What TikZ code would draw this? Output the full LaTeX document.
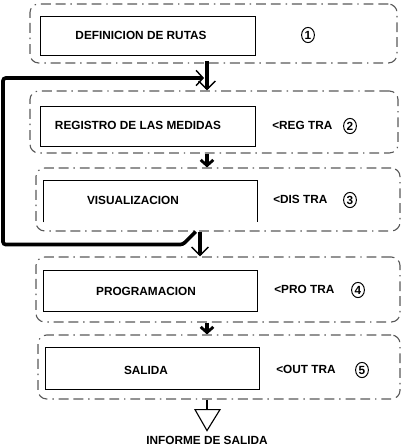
\documentclass[tikz,border=0pt]{standalone}
\usepackage{fontspec}
\setmainfont{Liberation Sans}
\usetikzlibrary{arrows.meta,shapes.geometric}
\tikzset{
  grupo/.style={draw=black!65, line width=0.8pt, rounded corners=2.2mm,
    dash pattern=on 7pt off 3.5pt on 7pt off 3.5pt on 1pt off 3.5pt},
  caja/.style={draw, line width=0.7pt},
  texto/.style={font=\fontsize{8.4}{10}\selectfont\bfseries, inner sep=0pt},
  numero/.style={draw, ellipse, line width=0.7pt, inner sep=0pt,
    minimum width=0.32cm, minimum height=0.38cm, font=\fontsize{8.4}{9}\selectfont\bfseries},
  flecha/.style={line width=2.6pt, -{Straight Barb[length=6pt,width=12pt,line width=1pt]}},
  corta/.style={line width=2.6pt, -{Straight Barb[length=4pt,width=9pt,line width=2pt]}},
  retorno/.style={line width=2.6pt, rounded corners=2pt,
    -{Straight Barb[length=5pt,width=11pt,line width=1pt]}},
}
\begin{document}
\begin{tikzpicture}[x=0.025cm,y=-0.025cm]
    \useasboundingbox (0,0) rectangle (402,447);
    % Ejes de las flechas
    \coordinate (eje) at (207,0);
    \coordinate (eje2) at (200,0);
    % Grupos punteados
    \foreach \n/\cx/\cy/\w/\h in {1/213.5/33.5/9.175/1.475, 2/214/122/9.2/1.55,
        3/218/199.5/9.1/1.575, 4/218/289.5/9.1/1.625, 5/219/367/9.05/1.6}
        \node[grupo, minimum width=\w cm, minimum height=\h cm] (g\n) at (\cx,\cy) {};
    % Cajas
    \node[caja, minimum width=5.35cm, minimum height=0.975cm] (c1) at (148,35.5) {};
    \node[caja, minimum width=5.35cm, minimum height=1cm] (c2) at (148,126) {};
    \node[minimum width=5.325cm, minimum height=1.025cm] (c3) at (150.5,201.5) {};
    \draw[line width=0.7pt] (c3.south west) -- (c3.north west) -- (c3.north east) -- (c3.south east);
    \node[caja, minimum width=5.325cm, minimum height=1.025cm] (c4) at (150.5,290.5) {};
    \node[caja, minimum width=5.325cm, minimum height=1.05cm] (c5) at (152.5,368) {};
    % Textos
    \node[texto] (t1) at (141,35) {DEFINICION DE RUTAS};
    \node[texto] (t2) at (138,125) {REGISTRO DE LAS MEDIDAS};
    \node[texto] (t3) at (133,200) {VISUALIZACION};
    \node[texto] (t4) at (146,291) {PROGRAMACION};
    \node[texto] (t5) at (146,370) {SALIDA};
    % Etiquetas y numeros
    \foreach \n/\lx/\ly/\txt in {2/272/125/REG, 3/273/199/DIS, 4/274/289/PRO, 5/276/369/OUT}
        \node[texto, anchor=west] (e\n) at (\lx,\ly) {\textless\txt\ TRA};
    \foreach \n/\nx/\ny in {1/308/35, 2/350/126, 3/350/200, 4/358/290, 5/362/370}
        \node[numero] (n\n) at (\nx,\ny) {\n};
    % Flechas
    \draw[flecha] ([yshift=2pt]g1.south -| eje) -- (g2.north -| eje);
    \draw[corta] (g2.south -| eje) -- (g3.north -| eje);
    \draw[flecha] (g3.south -| eje2) -- (g4.north -| eje2);
    \draw[corta] (g4.south -| eje) -- (g5.north -| eje);
    % Retorno
    \coordinate (entrada) at (204,78);
    \draw[retorno] ([xshift=-3pt]g3.south -| eje2) -- ++(-13,13) -| (3,78) -- (entrada);
    % Salida
    \draw[line width=0.8pt] (g5.south -| eje) -- ++(0,10) coordinate (tri);
    \draw[line width=0.8pt] ([xshift=-0.3cm]tri) -- ([xshift=0.325cm]tri)
        -- ([yshift=-0.525cm]tri) -- cycle;
    \node[texto] (informe) at (207,440) {INFORME DE SALIDA};
\end{tikzpicture}
\end{document}
